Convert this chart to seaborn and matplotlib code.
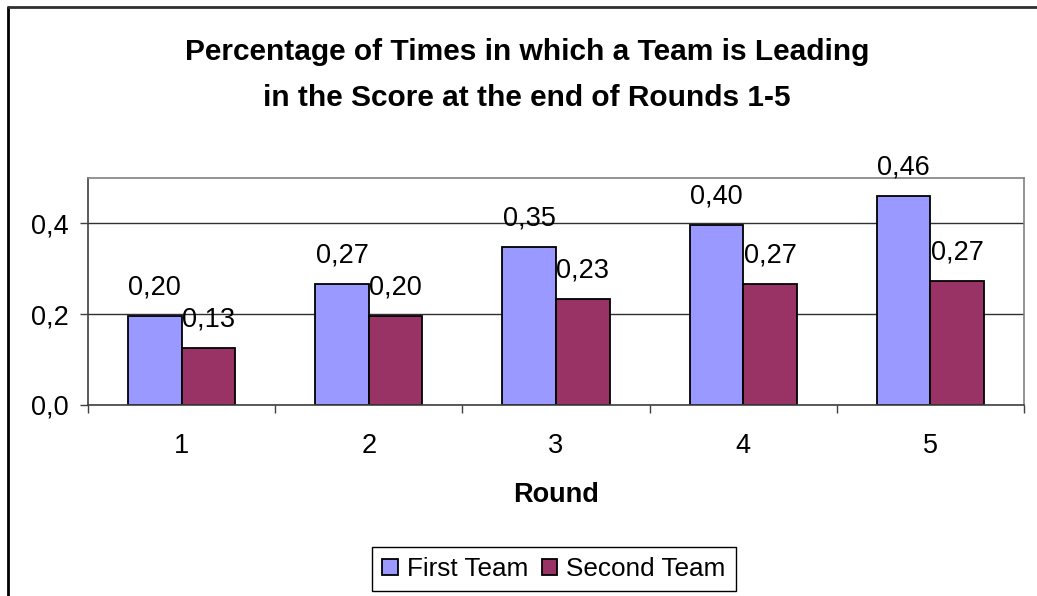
import matplotlib
matplotlib.use("Agg")
import matplotlib.pyplot as plt
from matplotlib.lines import Line2D
from matplotlib.ticker import FixedLocator
import pandas as pd
import seaborn as sns

rounds = ["1", "2", "3", "4", "5"]
first_team = [0.196, 0.266, 0.348, 0.396, 0.461]
second_team = [0.126, 0.196, 0.233, 0.266, 0.273]
teams = ["First Team", "Second Team"]
colors = ["#9999FF", "#993366"]
y_ticks = [0.0, 0.2, 0.4]

df = pd.DataFrame({
    "Round": rounds * 2,
    "value": first_team + second_team,
    "team": [teams[0]] * len(rounds) + [teams[1]] * len(rounds),
})

sns.set_style("white")
plt.rcParams["font.family"] = ["Liberation Sans", "DejaVu Sans"]
plt.rcParams["text.color"] = "black"
plt.rcParams["xtick.color"] = "black"
plt.rcParams["ytick.color"] = "black"
plt.rcParams["axes.labelcolor"] = "black"

fs = 19.5

fig = plt.figure(figsize=(10.37, 5.96), dpi=100)
ax = fig.add_axes([88 / 1037, 1 - 405 / 596, (1024 - 88) / 1037, (405 - 178) / 596])

sns.barplot(data=df, x="Round", y="value", hue="team", palette=colors,
            width=0.572, edgecolor="black", linewidth=1.3, saturation=1,
            ax=ax, legend=True)

ax.set_ylim(0, 0.5)
ax.set_xlim(-0.5, 4.5)
ax.set_yticks(y_ticks)
ax.set_yticklabels([f"{t:.1f}".replace(".", ",") for t in y_ticks])
ax.yaxis.grid(True, color="#303030", linewidth=1)
ax.set_axisbelow(True)
ax.tick_params(axis="y", length=5.8, width=1, color="#404040", labelsize=fs, pad=8, left=True)
ax.tick_params(axis="x", which="major", length=0, labelsize=fs, pad=20)
ax.xaxis.set_minor_locator(FixedLocator([i - 0.5 for i in range(len(rounds) + 1)]))
ax.tick_params(axis="x", which="minor", length=5.8, width=1, color="#404040", bottom=True)

for s in ax.spines.values():
    s.set_color("#808080")
    s.set_linewidth(1.2)
ax.spines["left"].set_color("#404040")
ax.spines["bottom"].set_color("#404040")

for cont in ax.containers:
    ax.bar_label(cont, labels=[f"{v:.2f}".replace(".", ",") for v in cont.datavalues],
                 padding=11, fontsize=fs)

ax.set_ylabel("")
ax.set_xlabel("Round", fontsize=fs, fontweight="bold", labelpad=17)

leg = ax.legend(loc="center", bbox_to_anchor=(554 / 1037, 27 / 596),
                bbox_transform=fig.transFigure, ncol=2, fontsize=18.8,
                frameon=True, fancybox=False, framealpha=1, edgecolor="black",
                handlelength=0.6, handleheight=0.6, handletextpad=0.35,
                columnspacing=0.5, borderpad=0.4, borderaxespad=0)
leg.get_frame().set_linewidth(1)

fig.text(527 / 1037, 1 - 52 / 596, "Percentage of Times in which a Team is Leading",
         ha="center", va="center", fontsize=21.5, fontweight="bold")
fig.text(527 / 1037, 1 - 98 / 596, "in the Score at the end of Rounds 1-5",
         ha="center", va="center", fontsize=21.5, fontweight="bold")

# outer chart frame (only top and left edges visible in the crop)
fig.add_artist(Line2D([8 / 1037, 8 / 1037], [0, 1 - 7 / 596], transform=fig.transFigure,
                      color="black", linewidth=2))
fig.add_artist(Line2D([8 / 1037, 1], [1 - 7 / 596, 1 - 7 / 596], transform=fig.transFigure,
                      color="#303030", linewidth=2))

fig.savefig("out.png", dpi=100)
